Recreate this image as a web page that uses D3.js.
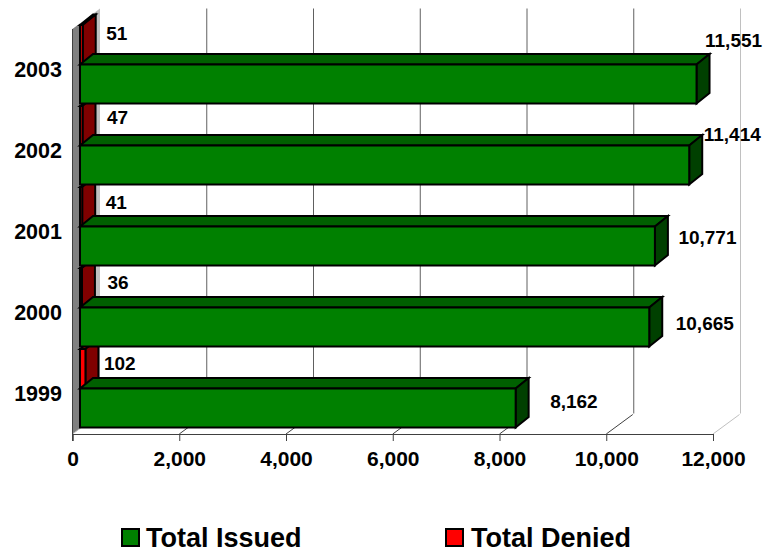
<!DOCTYPE html>
<html><head><meta charset="utf-8">
<script src="https://cdn.jsdelivr.net/npm/d3@7"></script>
<style>html,body{margin:0;padding:0;background:#fff}svg{display:block}text{font-family:"Liberation Sans",Arial,sans-serif;font-weight:bold;fill:#000}</style>
</head><body><div id="c"></div>
<script>
const years = ["2003","2002","2001","2000","1999"];
const totalIssued = [11551,11414,10771,10665,8162];
const totalDenied = [51,47,41,36,102];
const tickValues = [0,2000,4000,6000,8000,10000,12000];
const seriesNames = ["Total Issued","Total Denied"];

const W=765,H=552;
const svg=d3.select("#c").append("svg").attr("width",W).attr("height",H);
const x=d3.scaleLinear().domain([0,12000]).range([72.5,713]);
const y=d3.scaleBand().domain(years).range([24,429]).paddingInner(0).paddingOuter(0);
const floorY=434, topY=29, wallDx=27.5, wallDy=-20.5;
const barDx=7.5, depthX=13, depthY=-10.5;
const fmt=d3.format(",");
const colors={issued:"#008000",issuedTop:"#006000",issuedSide:"#004000",denied:"#ff0000",deniedTop:"#c00000",deniedSide:"#800000"};
const poly=(pts)=>pts.map(p=>p.join(",")).join(" ");

// walls
const walls=svg.append("g");
walls.append("polygon").attr("points",poly([[x(0),topY],[x(0)+wallDx,topY+wallDy],[x(0)+wallDx,floorY+wallDy],[x(0),floorY]])).attr("fill","#c0c0c0");
walls.append("polygon").attr("points",poly([[x(0),topY],[x(0)+barDx,topY-5.5],[x(0)+barDx,floorY-5.5],[x(0),floorY]])).attr("fill","#808080");
// gridlines on back wall and floor
tickValues.forEach((t,i)=>{
  const c=t===12000?"#c0c0c0":"#606060";
  if(t>0) svg.append("line").attr("x1",x(t)+wallDx).attr("x2",x(t)+wallDx).attr("y1",topY+wallDy).attr("y2",floorY+wallDy).attr("stroke",c).attr("stroke-width",1);
  svg.append("line").attr("x1",x(t)).attr("x2",x(t)+wallDx-1).attr("y1",floorY).attr("y2",floorY+wallDy+1).attr("stroke",t===12000?"#c0c0c0":(t===0?"#c0c0c0":"#404040")).attr("stroke-width",1);
});
// front axis
const axis=svg.append("g").attr("transform",`translate(0,${floorY})`).call(d3.axisBottom(x).tickValues(tickValues).tickFormat(fmt).tickSize(7).tickPadding(9.6));
axis.select(".domain").attr("stroke","#404040").attr("stroke-width",1);
axis.selectAll(".tick line").attr("stroke","#404040");
axis.selectAll("text").attr("font-size",21).style("font-family",'"Liberation Sans",Arial,sans-serif').style("font-weight","bold");
// left axis line
svg.append("line").attr("x1",x(0)).attr("x2",x(0)).attr("y1",topY).attr("y2",floorY+7).attr("stroke","#404040");
// year labels
svg.selectAll(".yr").data(years).enter().append("text").attr("class","yr")
  .attr("x",62).attr("y",d=>y(d)+y.bandwidth()/2+12).attr("text-anchor","end").attr("font-size",21.5).text(d=>d);

function box(g,x0,x1,yT,yB,front,top,side){
  const s={stroke:"#000","stroke-width":2,"stroke-linejoin":"miter"};
  const add=(pts,f)=>{const p=g.append("polygon").attr("points",poly(pts)).attr("fill",f);Object.entries(s).forEach(([k,v])=>p.attr(k,v));};
  add([[x0,yT],[x0+depthX,yT+depthY],[x1+depthX,yT+depthY],[x1,yT]],top);
  add([[x1,yT],[x1+depthX,yT+depthY],[x1+depthX,yB+depthY],[x1,yB]],side);
  add([[x0,yT],[x1,yT],[x1,yB],[x0,yB]],front);
}
// bars, back-most (bottom) first so upper bars overlap
const bars=svg.append("g");
years.map((d,i)=>i).reverse().forEach(i=>{
  const d=years[i], b=y(d), h=y.bandwidth()/2;
  const g=bars.append("g");
  box(g,x(0)+barDx,x(totalDenied[i])+barDx,b+1,b+h-0.5,colors.denied,colors.deniedTop,colors.deniedSide);
  box(g,x(0)+barDx,x(totalIssued[i])+barDx,b+h,b+h+39,colors.issued,colors.issuedTop,colors.issuedSide);
});
// value labels (hand-placed in the original)
const issuedNudge={"2003":[16,-57],"2002":[22,-44],"2001":[31,-22],"2000":[34,-17],"1999":[42,-20]};
const deniedNudge={"2003":[31,16],"2002":[32,19],"2001":[31,23],"2000":[33,22],"1999":[26,22]};
const fs=19;
years.forEach((d,i)=>{
  const b=y(d),h=y.bandwidth()/2;
  svg.append("text").attr("font-size",fs).attr("x",x(totalIssued[i])+issuedNudge[d][0]).attr("y",b+h+39+issuedNudge[d][1]).text(fmt(totalIssued[i]));
  svg.append("text").attr("font-size",fs).attr("x",x(totalDenied[i])+deniedNudge[d][0]).attr("y",b+deniedNudge[d][1]).text(fmt(totalDenied[i]));
});
// legend
const leg=[[122,colors.issued],[446,colors.denied]];
seriesNames.forEach((n,i)=>{
  svg.append("rect").attr("x",leg[i][0]).attr("y",529).attr("width",17).attr("height",17).attr("fill",leg[i][1]).attr("stroke","#000").attr("stroke-width",2);
  svg.append("text").attr("x",leg[i][0]+24+(i?1:0)).attr("y",547).attr("font-size",27).text(n);
});
</script></body></html>
